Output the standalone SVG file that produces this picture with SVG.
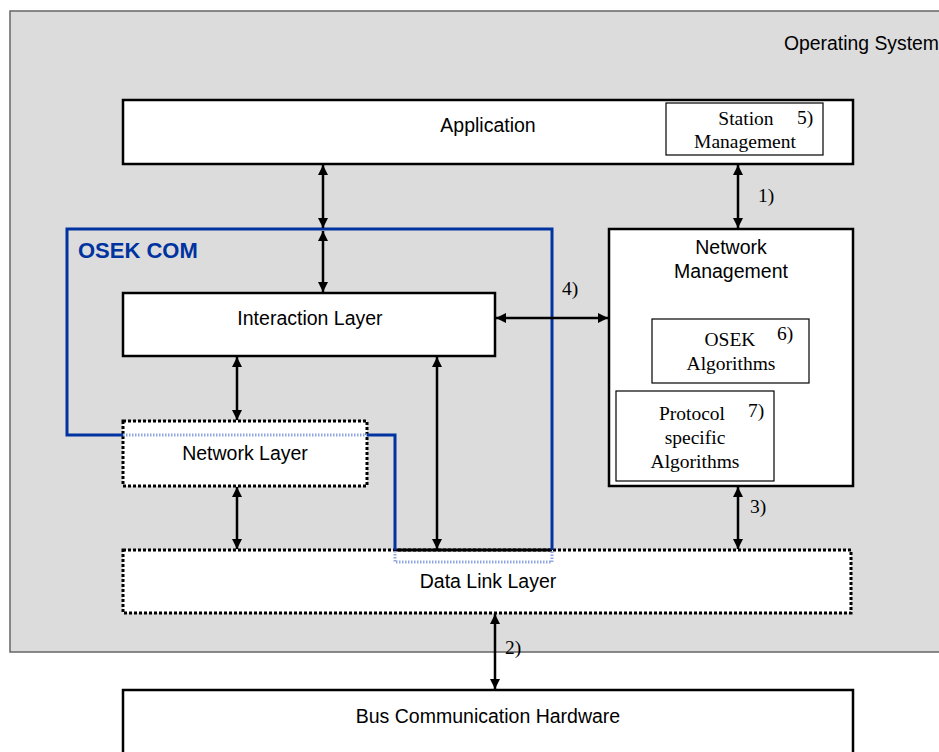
<svg xmlns="http://www.w3.org/2000/svg" width="939" height="752" viewBox="0 0 939 752">
<style>
.sans{font-family:"Liberation Sans",Arial,sans-serif;font-size:19.5px;fill:#000}
.serif{font-family:"Liberation Serif","Times New Roman",serif;font-size:19.5px;fill:#000}
.box{fill:#fff;stroke:#000;stroke-width:2.5}
.thin{fill:#fff;stroke:#000;stroke-width:1.2}
.dot{fill:#fff;stroke:#000;stroke-width:3;stroke-dasharray:3 2}
.conn{stroke:#000;stroke-width:2.5;fill:none;marker-start:url(#ah);marker-end:url(#ah)}
.blue{stroke:#0033a0;stroke-width:3;fill:none}
.lblue{stroke:#8fa6e0;stroke-width:3;fill:none;stroke-dasharray:1.5 1.5}
</style>
<defs>
<marker id="ah" viewBox="0 0 10 10" refX="10" refY="5" markerWidth="10" markerHeight="10" markerUnits="userSpaceOnUse" orient="auto-start-reverse">
<path d="M0,0 L10,5 L0,10 Z" fill="#000"/>
</marker>
</defs>
<rect width="939" height="752" fill="#fff"/>
<g id="os">
<rect x="10" y="11" width="940" height="641" fill="#dcdcdc" stroke="#666" stroke-width="1.5"/>
<text class="sans" x="784" y="50" textLength="155" lengthAdjust="spacingAndGlyphs">Operating System</text>
</g>
<g id="application">
<rect class="box" x="123" y="100" width="730" height="64"/>
<text class="sans" x="488" y="132" text-anchor="middle">Application</text>
</g>
<g id="station">
<rect class="thin" x="666" y="103" width="157" height="52"/>
<text class="serif" x="746" y="125" text-anchor="middle">Station</text>
<text class="serif" x="805" y="124" text-anchor="middle">5)</text>
<text class="serif" x="745" y="148" text-anchor="middle">Management</text>
</g>
<g id="nm">
<rect class="box" x="609" y="229" width="244" height="257"/>
<text class="sans" x="731" y="254" text-anchor="middle">Network</text>
<text class="sans" x="731" y="278" text-anchor="middle">Management</text>
</g>
<g id="osekalg">
<rect class="thin" x="652" y="319" width="157" height="64"/>
<text class="serif" x="730" y="346" text-anchor="middle">OSEK</text>
<text class="serif" x="785" y="340" text-anchor="middle">6)</text>
<text class="serif" x="731" y="370" text-anchor="middle">Algorithms</text>
</g>
<g id="protalg">
<rect class="thin" x="616" y="391" width="158" height="90"/>
<text class="serif" x="692" y="420" text-anchor="middle">Protocol</text>
<text class="serif" x="756" y="417" text-anchor="middle">7)</text>
<text class="serif" x="695" y="444" text-anchor="middle">specific</text>
<text class="serif" x="695" y="468" text-anchor="middle">Algorithms</text>
</g>
<g id="interaction">
<rect class="box" x="123" y="293" width="372" height="63"/>
<text class="sans" x="310" y="325" text-anchor="middle">Interaction Layer</text>
</g>
<g id="network">
<rect class="dot" x="123" y="421" width="244" height="65"/>
<text class="sans" x="245" y="460" text-anchor="middle">Network Layer</text>
</g>
<g id="datalink">
<rect class="dot" x="123" y="550" width="728" height="63"/>
<text class="sans" x="488" y="588" text-anchor="middle">Data Link Layer</text>
</g>
<g id="bus">
<rect class="box" x="123" y="690" width="730" height="70"/>
<text class="sans" x="488" y="723" text-anchor="middle">Bus Communication Hardware</text>
</g>
<g id="osekcom">
<line x1="395" y1="550" x2="552" y2="550" stroke="#000" stroke-width="3"/>
<path class="blue" d="M123,435 H67 V229 H552 V550"/>
<path class="blue" d="M367,435 H395 V550"/>
<line class="lblue" x1="123" y1="435" x2="367" y2="435"/>
<path class="lblue" d="M395,551 V562 H552 V551" stroke-width="1.5"/>
<text x="78" y="258" font-family="Liberation Sans,Arial,sans-serif" font-size="22" font-weight="bold" fill="#0033a0">OSEK COM</text>
</g>
<g id="connectors">
<line class="conn" x1="323" y1="165" x2="323" y2="228"/>
<line class="conn" x1="323" y1="231" x2="323" y2="292"/>
<line class="conn" x1="738" y1="165" x2="738" y2="228"/>
<line class="conn" x1="496" y1="318" x2="608" y2="318"/>
<line class="conn" x1="237" y1="357" x2="237" y2="420"/>
<line class="conn" x1="237" y1="487" x2="237" y2="549"/>
<line class="conn" x1="437" y1="357" x2="437" y2="549"/>
<line class="conn" x1="738" y1="487" x2="738" y2="549"/>
<line class="conn" x1="495" y1="614" x2="495" y2="689"/>
<text class="serif" x="766" y="202" text-anchor="middle">1)</text>
<text class="serif" x="570" y="295" text-anchor="middle">4)</text>
<text class="serif" x="758" y="513" text-anchor="middle">3)</text>
<text class="serif" x="513" y="654" text-anchor="middle">2)</text>
</g>
</svg>
